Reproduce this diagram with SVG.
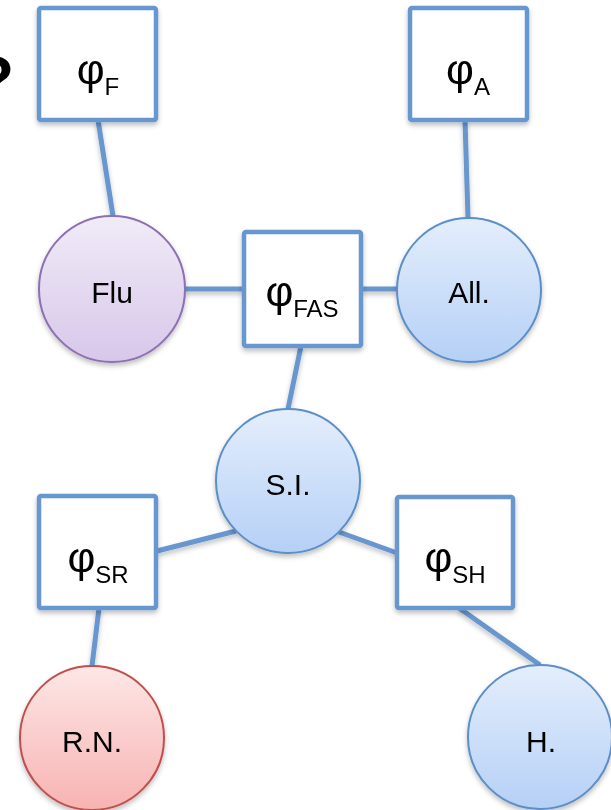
<svg xmlns="http://www.w3.org/2000/svg" width="611" height="810" viewBox="0 0 611 810">
<defs>
<linearGradient id="gBlue" x1="0" y1="0" x2="0" y2="1"><stop offset="0" stop-color="#e4eefc"/><stop offset="1" stop-color="#b5d0f6"/></linearGradient>
<linearGradient id="gPurple" x1="0" y1="0" x2="0" y2="1"><stop offset="0" stop-color="#f1ebf7"/><stop offset="1" stop-color="#d7c7ea"/></linearGradient>
<linearGradient id="gRed" x1="0" y1="0" x2="0" y2="1"><stop offset="0" stop-color="#fde7e6"/><stop offset="1" stop-color="#f7b3b2"/></linearGradient>
<filter id="sh" x="-20%" y="-20%" width="140%" height="150%"><feDropShadow dx="0" dy="3" stdDeviation="2.5" flood-color="#000" flood-opacity="0.25"/></filter>
<style>
.box{fill:#fff;stroke:#6797cf;stroke-width:4.5}
.conn line{stroke:#6797cf;stroke-width:5;stroke-linecap:butt}
.cb{fill:url(#gBlue);stroke:#5b8ec8;stroke-width:2}
.cp{fill:url(#gPurple);stroke:#8d70b2;stroke-width:2}
.cr{fill:url(#gRed);stroke:#c0504d;stroke-width:2}
.phi{font-family:"Liberation Sans","DejaVu Sans",sans-serif;font-size:43px;fill:#000;text-anchor:middle}
.sub{font-size:24px}
.lbl{font-family:"Liberation Sans",Arial,sans-serif;font-size:30px;fill:#000;text-anchor:middle}
</style>
</defs>
<rect width="611" height="810" fill="#fff"/>
<text x="-25" y="102" font-family="Liberation Sans,sans-serif" font-weight="bold" font-size="64" fill="#000">?</text>
<g id="connectors" class="conn" filter="url(#sh)">
<line x1="98" y1="120" x2="113" y2="216"/>
<line x1="465" y1="120" x2="468" y2="218"/>
<line x1="184" y1="289" x2="244" y2="289"/>
<line x1="361" y1="289" x2="398" y2="289"/>
<line x1="301" y1="346" x2="288" y2="409"/>
<line x1="236" y1="531" x2="157" y2="551"/>
<line x1="339" y1="532" x2="397" y2="553"/>
<line x1="99" y1="608" x2="92" y2="666"/>
<line x1="459" y1="608" x2="540" y2="665"/>
</g>
<g id="phiF" filter="url(#sh)"><rect class="box" x="39" y="8" width="117" height="112" rx="2"/><text class="phi" x="98" y="84">φ<tspan class="sub" dy="11">F</tspan></text></g>
<g id="phiA" filter="url(#sh)"><rect class="box" x="410" y="8" width="117" height="112" rx="2"/><text class="phi" x="468" y="84">φ<tspan class="sub" dy="11">A</tspan></text></g>
<g id="phiFAS" filter="url(#sh)"><rect class="box" x="244" y="232" width="117" height="114" rx="2"/><text class="phi" x="302" y="306">φ<tspan class="sub" dy="11">FAS</tspan></text></g>
<g id="phiSR" filter="url(#sh)"><rect class="box" x="39" y="496" width="117" height="112" rx="2"/><text class="phi" x="98" y="572">φ<tspan class="sub" dy="11">SR</tspan></text></g>
<g id="phiSH" filter="url(#sh)"><rect class="box" x="397" y="497" width="116" height="111" rx="2"/><text class="phi" x="455" y="572">φ<tspan class="sub" dy="11">SH</tspan></text></g>
<g id="flu" filter="url(#sh)"><circle class="cp" cx="112" cy="289" r="73"/><text class="lbl" x="112" y="303">Flu</text></g>
<g id="all" filter="url(#sh)"><circle class="cb" cx="469" cy="290" r="72"/><text class="lbl" x="469" y="303">All.</text></g>
<g id="si" filter="url(#sh)"><circle class="cb" cx="288" cy="481" r="72"/><text class="lbl" x="288" y="495">S.I.</text></g>
<g id="rn" filter="url(#sh)"><circle class="cr" cx="92" cy="738" r="72"/><text class="lbl" x="92" y="752">R.N.</text></g>
<g id="h" filter="url(#sh)"><circle class="cb" cx="540" cy="737" r="72"/><text class="lbl" x="541" y="752">H.</text></g>
</svg>
